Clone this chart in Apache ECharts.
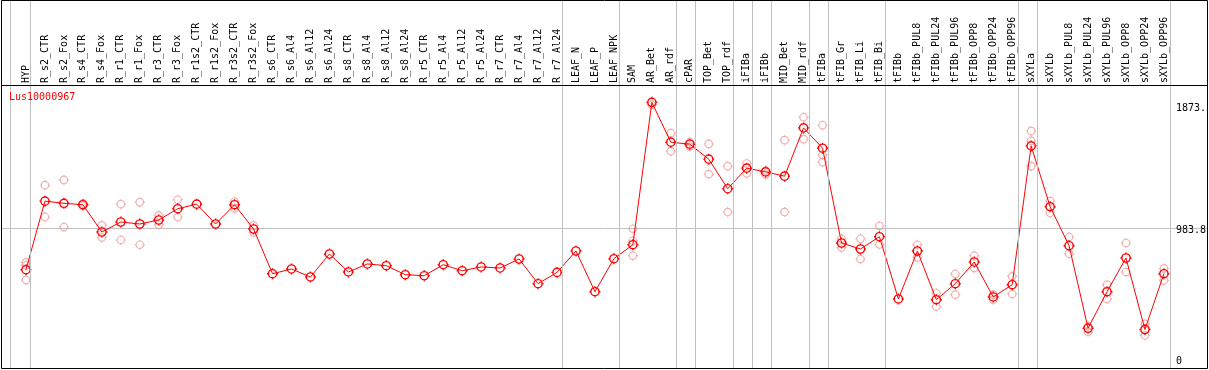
<!DOCTYPE html>
<html>
<head>
<meta charset="utf-8">
<script src="https://cdn.jsdelivr.net/npm/echarts@6/dist/echarts.min.js"></script>
<style>
html,body{margin:0;padding:0;background:#fff;}
#chart{width:1209px;height:370px;}
</style>
</head>
<body>
<div id="chart"></div>
<script>
var categories = ['HYP','R_s2_CTR','R_s2_Fox','R_s4_CTR','R_s4_Fox','R_r1_CTR','R_r1_Fox','R_r3_CTR','R_r3_Fox','R_r1s2_CTR','R_r1s2_Fox','R_r3s2_CTR','R_r3s2_Fox','R_s6_CTR','R_s6_Al4','R_s6_Al12','R_s6_Al24','R_s8_CTR','R_s8_Al4','R_s8_Al12','R_s8_Al24','R_r5_CTR','R_r5_Al4','R_r5_Al12','R_r5_Al24','R_r7_CTR','R_r7_Al4','R_r7_Al12','R_r7_Al24','LEAF_N','LEAF_P','LEAF_NPK','SAM','AR_Bet','AR_rdf','cPAR','TOP_Bet','TOP_rdf','iFIBa','iFIBb','MID_Bet','MID_rdf','tFIBa','tFIB_Gr','tFIB_Li','tFIB_Bi','tFIBb','tFIBb_PUL8','tFIBb_PUL24','tFIBb_PUL96','tFIBb_OPP8','tFIBb_OPP24','tFIBb_OPP96','sXYLa','sXYLb','sXYLb_PUL8','sXYLb_PUL24','sXYLb_PUL96','sXYLb_OPP8','sXYLb_OPP24','sXYLb_OPP96'];

var meanValues = [692,1172,1157,1147,956,1026,1012,1040,1119,1151,1012,1147,977,664,697,641,802,676,732,720,657,650,727,685,711,704,767,594,673,823,538,769,867,1864,1585,1571,1466,1259,1403,1377,1347,1685,1543,879,837,923,487,823,482,594,746,501,587,1559,1133,860,282,538,774,273,664];

var replicateValues = [
  [743,722,620],[1284,1061],[1321,991],[1155,1140],[1002,918],[1151,900],[1165,867],[1072,1007],[1182,1061],[],[],[1168,1121],[1002,953],
  [],[],[],[],[],[],[],[],[],[],[],[],[],[],[],[],
  [],[],[],
  [979,895,790],[1897,1846],[1648,1522],[1585,1554],[1573,1361],[1417,1096],[1436,1366],[1387,1359],[1599,1096],[1760,1606],[1704,1496,1445],
  [909,848],[909,767],[998,869],
  [],[867,778],[527,434],[662,517],[790,704],[517,482],[645,522],
  [1664,1594,1417],[1172,1089],[921,804],[296,257],[587,487],[879,676],[313,231],[701,617]
];

var groupEnds = ['HYP','R_r7_Al24','LEAF_NPK','AR_rdf','cPAR','TOP_rdf','iFIBa','iFIBb','MID_rdf','tFIBa','tFIB_Bi','tFIBb_OPP96','sXYLa','sXYLb_OPP96'];

var yMin = 0, yMax = 1873.4, yInterval = 983.8;
var seriesTitle = 'Lus10000967';

var MONO = 'DejaVu Sans Mono';
var markerPath = 'path://M9.6 5.5 A4.1 4.1 0 1 1 1.4 5.5 A4.1 4.1 0 1 1 9.6 5.5 Z M5.5 0 L5.5 1.4 M5.5 9.6 L5.5 11 M0 5.5 L1.4 5.5 M9.6 5.5 L11 5.5';

var repData = [];
replicateValues.forEach(function (arr, i) {
  arr.forEach(function (v) { repData.push([categories[i], v]); });
});

var chart = echarts.init(document.getElementById('chart'), null, {renderer: 'canvas'});
chart.setOption({
  animation: false,
  backgroundColor: '#fff',
  title: {
    text: seriesTitle, left: 9, top: 92, padding: 0,
    textStyle: {color: '#ff0000', fontSize: 10, fontWeight: 'normal', fontFamily: MONO}
  },
  grid: [
    {left: 16.5, width: 1159, top: 101, bottom: 1.5, containLabel: false},
    {left: 21, width: 1159, top: 0.5, bottom: 1.5, containLabel: false},
    {left: 1.5, right: 1.5, top: 101, bottom: 1.5, containLabel: false}
  ],
  xAxis: [
    {
      gridIndex: 0, type: 'category', data: categories, position: 'top', boundaryGap: true,
      axisLine: {show: false}, axisTick: {show: false}, splitLine: {show: false},
      axisLabel: {rotate: 90, interval: 0, margin: 18, fontSize: 10, fontFamily: MONO, color: '#000'}
    },
    {
      gridIndex: 1, type: 'category', data: categories, boundaryGap: true,
      axisLine: {show: false}, axisTick: {show: false}, axisLabel: {show: false}, splitLine: {show: false}
    },
    {
      gridIndex: 2, type: 'value', min: 0, max: 1, show: false
    }
  ],
  yAxis: [
    {
      gridIndex: 0, type: 'value', position: 'right', min: yMin, max: yMax, interval: yInterval,
      axisLine: {show: false}, axisTick: {show: false}, splitLine: {show: false},
      axisLabel: {
        margin: 2.5, fontSize: 10, fontFamily: MONO, color: '#000',
        formatter: function (v) {
          var s = String(v).slice(0, 5);
          if (v === yMin) return '{z|' + s + '}';
          if (v >= yMax) return '{t|' + s + '}';
          return '{m|' + s + '}';
        },
        rich: {
          t: {fontSize: 10, fontFamily: MONO, color: '#000', padding: [14, 0, 0, 0]},
          m: {fontSize: 10, fontFamily: MONO, color: '#000', padding: [4, 0, 0, 0]},
          z: {fontSize: 10, fontFamily: MONO, color: '#000', padding: [0, 0, 15, 0]}
        }
      }
    },
    {
      gridIndex: 1, type: 'value', min: 0, max: 1, show: false
    },
    {
      gridIndex: 2, type: 'value', min: yMin, max: yMax, interval: yInterval,
      axisLine: {show: false}, axisTick: {show: false}, axisLabel: {show: false},
      splitLine: {show: true, showMinLine: false, showMaxLine: false, lineStyle: {color: '#c0c0c0', width: 1}}
    }
  ],
  graphic: [
    {type: 'line', z: 0, silent: true, shape: {x1: 10.5, y1: 0, x2: 10.5, y2: 369}, style: {stroke: '#c0c0c0', lineWidth: 1}},
    {type: 'rect', z: 100, silent: true, shape: {x: 1.5, y: 0.5, width: 1206, height: 368}, style: {fill: 'none', stroke: '#000', lineWidth: 1}},
    {type: 'line', z: 100, silent: true, shape: {x1: 1, y1: 85.5, x2: 1208, y2: 85.5}, style: {stroke: '#000', lineWidth: 1}}
  ],
  series: [
    {
      type: 'line', xAxisIndex: 1, yAxisIndex: 1, data: [], silent: true,
      markLine: {
        silent: true, symbol: 'none', animation: false,
        label: {show: false},
        lineStyle: {color: '#c0c0c0', type: 'solid', width: 1},
        emphasis: {disabled: true},
        data: groupEnds.map(function (n) { return {xAxis: n}; })
      }
    },
    {
      type: 'line', xAxisIndex: 2, yAxisIndex: 2, data: [], silent: true
    },
    {
      name: 'replicates', type: 'scatter', xAxisIndex: 0, yAxisIndex: 0, silent: true,
      data: repData, symbol: markerPath, symbolSize: 10,
      itemStyle: {color: 'rgba(0,0,0,0)', borderColor: '#f09a9a', borderWidth: 1.2}
    },
    {
      name: seriesTitle, type: 'line', xAxisIndex: 0, yAxisIndex: 0, silent: true,
      data: meanValues, symbol: markerPath, symbolSize: 11, showAllSymbol: true,
      lineStyle: {color: '#ff0000', width: 1},
      itemStyle: {color: 'rgba(0,0,0,0)', borderColor: '#ff0000', borderWidth: 1.4}
    }
  ]
});
</script>
</body>
</html>
